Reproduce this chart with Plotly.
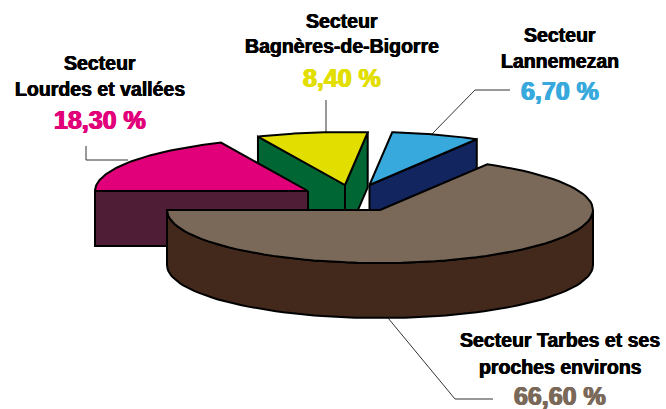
import math
import plotly.graph_objects as go

# --- data ---
sectors = ["Secteur<br>Lourdes et vallées", "Secteur<br>Bagnères-de-Bigorre", "Secteur<br>Lannemezan", "Secteur Tarbes et ses<br>proches environs"]
shares = [18.3, 8.4, 6.7, 66.6]
share_labels = ["18,30 %", "8,40 %", "6,70 %", "66,60 %"]
top_colors = ["#E2007A", "#E2DE00", "#38A9DC", "#7A6858"]
side_colors = ["#4F1D36", "#006633", "#12255F", "#43281C"]

# --- pie geometry (pixels) ---
W, H = 666, 409
RX, RY, DEPTH = 213, 53, 55
START = 180.0
apexes = [(308, 191), (345, 185), (369.5, 185), (380, 210)]
label_pos = [(100, 63, 89, 120), (342, 21, 46, 78), (560, 35, 61, 91), (560, 340, 367, 396)]

bounds = []
a = START
for s in shares:
    b = a - s * 3.6
    bounds.append((b, a))
    a = b


def pt(c, ang, dz=0):
    r = math.radians(ang)
    return c[0] + RX * math.cos(r), c[1] - RY * math.sin(r) + dz


def arc(c, a0, a1, dz=0, n=80):
    return [pt(c, a0 + (a1 - a0) * i / n, dz) for i in range(n + 1)]


def poly(fig, pts, color):
    xs = [p[0] for p in pts] + [pts[0][0]]
    ys = [p[1] for p in pts] + [pts[0][1]]
    fig.add_trace(go.Scatter(x=xs, y=ys, mode="lines", fill="toself", fillcolor=color,
                             line=dict(color="black", width=2), hoverinfo="skip", showlegend=False))


def wall(fig, c, ang, color):
    p = pt(c, ang)
    q = (c[0], c[1] + DEPTH)
    poly(fig, [c, p, (p[0], p[1] + DEPTH), q], color)


fig = go.Figure()


def leader(xs, ys):
    fig.add_trace(go.Scatter(x=xs, y=ys, mode="lines", line=dict(color="#333333", width=1),
                             hoverinfo="skip", showlegend=False))


leader([86, 86, 128], [146, 160, 160])
leader([326, 326], [100, 134])
leader([510, 475, 431], [90, 90, 135])
leader([388, 455, 493], [318, 399, 399])

for i in [1, 2, 0, 3]:
    lo, hi = bounds[i]
    c = apexes[i]
    if i == 3:
        poly(fig, arc(c, 0, -180, 0) + arc(c, -180, 0, DEPTH), side_colors[i])
    else:
        for ang, sgn in ((lo, -1), (hi, 1)):
            if math.sin(math.radians(ang + sgn * 90)) < 0:
                wall(fig, c, ang, side_colors[i])
    poly(fig, [c] + arc(c, hi, lo), top_colors[i])

for i, name in enumerate(sectors):
    x, y1, y2, y3 = label_pos[i]
    l1, l2 = name.split("<br>")
    for txt, yy in ((l1, y1), (l2, y2)):
        fig.add_annotation(x=x, y=yy, text=f"<b>{txt}</b>", showarrow=False, xanchor="center", yanchor="middle",
                           font=dict(family="Liberation Sans", size=19.5, color="black",
                                     shadow="0.4px 0 0 black, -0.4px 0 0 black"))
    col = top_colors[i]
    fig.add_annotation(x=x, y=y3, text=f"<b>{share_labels[i]}</b>", showarrow=False, xanchor="center", yanchor="middle",
                       font=dict(family="Liberation Sans", size=25, color=col,
                                 shadow=f"0.7px 0 0 {col}, -0.7px 0 0 {col}"))

fig.update_layout(width=W, height=H, margin=dict(l=0, r=0, t=0, b=0), paper_bgcolor="white", plot_bgcolor="white",
                  xaxis=dict(range=[0, W], visible=False, fixedrange=True),
                  yaxis=dict(range=[H, 0], visible=False, fixedrange=True), showlegend=False)
fig.write_html("out.html", config={"displayModeBar": False}, post_script="document.body.style.margin='0';")
